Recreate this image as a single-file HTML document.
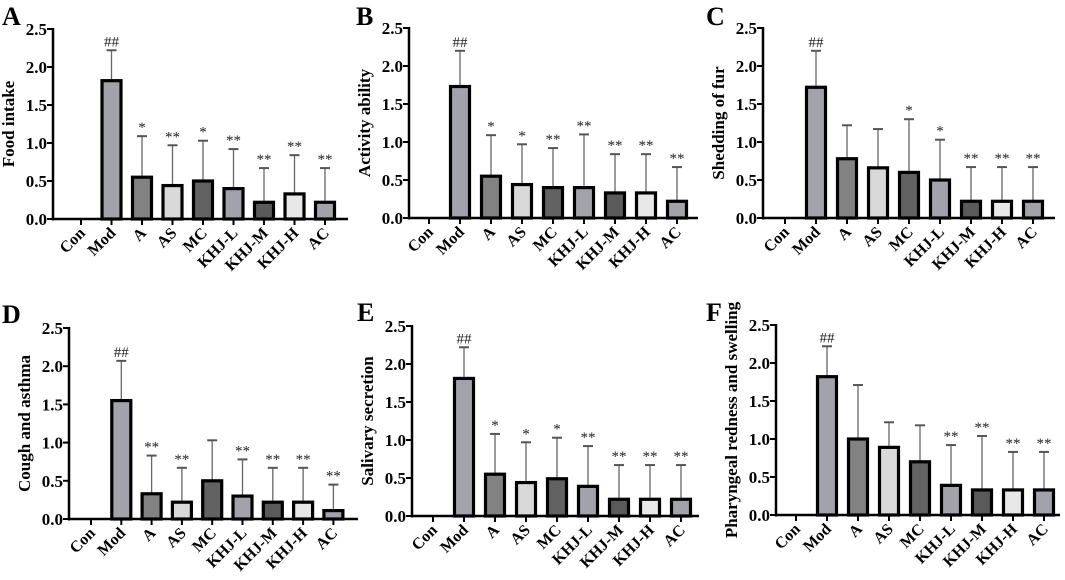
<!DOCTYPE html>
<html><head><meta charset="utf-8">
<style>
html,body{margin:0;padding:0;background:#fff;}
svg{display:block;font-family:"Liberation Serif",serif;font-weight:bold;}
</style></head>
<body>
<svg id="fig" width="1065" height="580" viewBox="0 0 1065 580" xmlns="http://www.w3.org/2000/svg"></svg>
<script>
const categories = ["Con","Mod","A","AS","MC","KHJ-L","KHJ-M","KHJ-H","AC"];
const yTicks = ["0.0","0.5","1.0","1.5","2.0","2.5"];
const foodMeans = [0,1.82,0.55,0.44,0.50,0.40,0.22,0.33,0.22];
const foodErr = [0,2.22,1.09,0.97,1.03,0.92,0.67,0.84,0.67];
const foodSig = ["","##","*","**","*","**","**","**","**"];
const actMeans = [0,1.73,0.55,0.44,0.40,0.40,0.33,0.33,0.22];
const actErr = [0,2.20,1.09,0.97,0.92,1.10,0.84,0.84,0.67];
const actSig = ["","##","*","*","**","**","**","**","**"];
const furMeans = [0,1.72,0.78,0.66,0.60,0.50,0.22,0.22,0.22];
const furErr = [0,2.20,1.22,1.17,1.30,1.03,0.67,0.67,0.67];
const furSig = ["","##","","","*","*","**","**","**"];
const coughMeans = [0,1.55,0.33,0.22,0.50,0.30,0.22,0.22,0.11];
const coughErr = [0,2.07,0.83,0.67,1.03,0.78,0.67,0.67,0.45];
const coughSig = ["","##","**","**","","**","**","**","**"];
const salMeans = [0,1.81,0.55,0.44,0.49,0.39,0.22,0.22,0.22];
const salErr = [0,2.22,1.08,0.97,1.03,0.92,0.67,0.67,0.67];
const salSig = ["","##","*","*","*","**","**","**","**"];
const pharMeans = [0,1.82,1.00,0.89,0.70,0.39,0.33,0.33,0.33];
const pharErr = [0,2.22,1.71,1.22,1.18,0.92,1.04,0.83,0.83];
const pharSig = ["","##","","","","**","**","**","**"];

const fills = ["#ffffff","#a2a2aa","#828282","#d9d9d9","#626262","#a2a2aa","#5a5a5a","#e8e8e8","#a2a2aa"];
const NS="http://www.w3.org/2000/svg";
const svg=document.getElementById('fig');
function mk(tag,attrs,parent,text){const e=document.createElementNS(NS,tag);for(const k in attrs)e.setAttribute(k,attrs[k]);if(text!==undefined)e.textContent=text;parent.appendChild(e);return e;}

const panels=[
 {id:"a",letter:"A",title:"Food intake",means:foodMeans,err:foodErr,sig:foodSig,ax:53,top:29,zero:219,con:81,sp:30.5,end:348,lx:2,ly:25},
 {id:"b",letter:"B",title:"Activity ability",means:actMeans,err:actErr,sig:actSig,ax:409,top:28,zero:218,con:429,sp:31,end:698,lx:356,ly:25},
 {id:"c",letter:"C",title:"Shedding of fur",means:furMeans,err:furErr,sig:furSig,ax:763,top:28,zero:218,con:785,sp:31,end:1055,lx:706,ly:25},
 {id:"d",letter:"D",title:"Cough and asthma",means:coughMeans,err:coughErr,sig:coughSig,ax:69,top:328,zero:519,con:91,sp:30.3,end:358,lx:2,ly:323},
 {id:"e",letter:"E",title:"Salivary secretion",means:salMeans,err:salErr,sig:salSig,ax:412,top:326,zero:516,con:433,sp:31,end:699,lx:357,ly:321},
 {id:"f",letter:"F",title:"Pharyngeal redness and swelling",means:pharMeans,err:pharErr,sig:pharSig,ax:776,top:325,zero:515,con:796,sp:31,end:1060,lx:706,ly:321}
];

panels.forEach(p=>{
  const g=mk('g',{},svg);
  
  
  const y=v=>p.zero-(v/2.5)*(p.zero-p.top);
  const x=i=>p.con+i*p.sp;
  const lt=mk('text',{x:p.lx,y:p.ly,'font-size':26},g,p.letter);
  
  
  const cy=(p.top+p.zero)/2;
  const yt=mk('text',{x:0,y:0,'font-size':17,'text-anchor':'middle',transform:`translate(${p.ax-39},${cy}) rotate(-90)`},g,p.title);
  
  
  const ya=mk('line',{x1:p.ax,y1:p.top-1,x2:p.ax,y2:p.zero+1.5,stroke:'#000','stroke-width':2.5},g);
  
  
  yTicks.forEach((t,i)=>{
    const v=parseFloat(t);
    mk('line',{x1:p.ax-6,y1:y(v),x2:p.ax,y2:y(v),stroke:'#000','stroke-width':2},g);
    const tl=mk('text',{x:p.ax-6,y:y(v)+6,'font-size':17,'text-anchor':'end'},g,t);
    
    
  });
  const xa=mk('line',{x1:p.ax,y1:p.zero,x2:p.end,y2:p.zero,stroke:'#000','stroke-width':2.5},g);
  
  
  categories.forEach((c,i)=>{
    const cx=x(i);
    mk('line',{x1:cx,y1:p.zero,x2:cx,y2:p.zero+6,stroke:'#000','stroke-width':2},g);
    const xl=mk('text',{x:0,y:0,'font-size':16,'text-anchor':'end',transform:`translate(${cx+5},${p.zero+15}) rotate(-45)`},g,c);
    
    
    const m=p.means[i];
    if(m>0){
      const e=p.err[i];
      const eb=mk('g',{},g);
      
      
      mk('line',{x1:cx,y1:y(m),x2:cx,y2:y(e),stroke:'#666','stroke-width':1.3},eb);
      mk('line',{x1:cx-5,y1:y(e),x2:cx+5,y2:y(e),stroke:'#555','stroke-width':2},eb);
      const r=mk('rect',{x:cx-9.5,y:y(m),width:19,height:p.zero-y(m),fill:fills[i],stroke:'#000','stroke-width':3.2},g);
      
      
      if(p.sig[i]){
        const s=mk('text',{x:cx,y:y(e)-4,'font-size':15,'font-weight':'normal','text-anchor':'middle',fill:'#222'},g,p.sig[i]);
        
        
      }
    }
  });
});
</script>
</body></html>
